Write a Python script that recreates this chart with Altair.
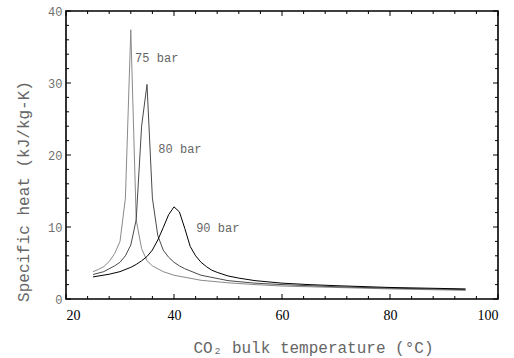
import altair as alt
import pandas as pd

# ---- data ----
t75 = [25, 26, 27, 28, 29, 30, 31, 32, 33, 34, 35, 36, 38, 40, 45, 50, 55, 60, 70, 80, 94]
cp75 = [3.8, 4.1, 4.5, 5.2, 6.3, 8.0, 14.0, 37.4, 11.0, 7.0, 5.3, 4.6, 3.8, 3.3, 2.6, 2.25, 2.0, 1.8, 1.6, 1.4, 1.2]

t80 = [25, 27, 29, 30, 31, 32, 33, 34, 35, 36, 37, 38, 39, 40, 41, 42, 45, 50, 55, 60, 70, 80, 94]
cp80 = [3.4, 3.8, 4.6, 5.1, 6.0, 7.5, 11.0, 24.0, 29.8, 14.0, 8.8, 6.8, 5.8, 5.1, 4.6, 4.2, 3.3, 2.55, 2.2, 2.0, 1.7, 1.5, 1.3]

t90 = [25, 28, 30, 32, 33, 34, 35, 36, 37, 38, 39, 40, 41, 42, 43, 44, 45, 46, 47, 48, 50, 52, 55, 60, 65, 70, 80, 94]
cp90 = [3.07, 3.44, 3.8, 4.4, 4.8, 5.3, 5.9, 6.8, 8.2, 9.9, 11.7, 12.8, 12.1, 9.8, 7.3, 6.0, 5.1, 4.5, 4.0, 3.7, 3.2, 2.9, 2.55, 2.2, 2.0, 1.85, 1.6, 1.4]

series_names = ["75 bar", "80 bar", "90 bar"]
series_colors = ["#8a8a8a", "#4a4a4a", "#000000"]
series_widths = [1.0, 1.0, 1.3]

label_text = ["75 bar", "80 bar", "90 bar"]
label_x = [32.8, 37.1, 44.1]
label_y = [33.5, 20.8, 9.9]

x_major = [20, 40, 60, 80, 100]
x_minor = [24, 28, 32, 36, 44, 48, 52, 56, 64, 68, 72, 76, 84, 88, 92, 96]
y_major = [0, 10, 20, 30, 40]
y_minor = [2, 4, 6, 8, 12, 14, 16, 18, 22, 24, 26, 28, 32, 34, 36, 38]

W, H = 432, 288
MAJ, MIN = 5, 3

rows = []
for name, ts, cs in zip(series_names, [t75, t80, t90], [cp75, cp80, cp90]):
    for t, c in zip(ts, cs):
        rows.append({"series": name, "T": t, "cp": c})
df = pd.DataFrame(rows)

xscale = alt.Scale(domain=[20, 100], nice=False, zero=False)
yscale = alt.Scale(domain=[0, 40], nice=False, zero=False)

mono = "Liberation Mono"
XT = "CO₂ bulk temperature (°C)"
YT = "Specific heat (kJ/kg-K)"

lines = alt.Chart(df).mark_line(interpolate="linear").encode(
    x=alt.X("T:Q", scale=xscale, title=XT,
            axis=alt.Axis(values=x_major,
                          grid=False, ticks=False, domain=False,
                          labelFont="Liberation Serif", labelFontSize=14,
                          labelColor="#000000", labelPadding=9,
                          titleFont=mono, titleFontSize=16, titleColor="#666666",
                          titleFontWeight="normal", titleX=247, titleY=48,
                          titleBaseline="middle", titleAlign="center")),
    y=alt.Y("cp:Q", scale=yscale, title=YT,
            axis=alt.Axis(values=y_major,
                          grid=False, ticks=False, domain=False,
                          labelFont=mono, labelFontSize=12, labelColor="#707070",
                          labelPadding=4,
                          titleFont=mono, titleFontSize=16, titleColor="#666666",
                          titleFontWeight="normal", titleX=-43, titleY=180,
                          titleAngle=-90, titleBaseline="middle", titleAlign="center")),
    color=alt.Color("series:N", scale=alt.Scale(domain=series_names, range=series_colors), legend=None),
    strokeWidth=alt.StrokeWidth("series:N", scale=alt.Scale(domain=series_names, range=series_widths), legend=None),
    detail="series:N",
)

labels = alt.Chart(pd.DataFrame({"T": label_x, "cp": label_y, "text": label_text})).mark_text(
    align="left", baseline="middle", font=mono, fontSize=12, color="#666666"
).encode(
    x=alt.X("T:Q", scale=xscale, title=XT),
    y=alt.Y("cp:Q", scale=yscale, title=YT),
    text="text:N",
)

def xticks(vals, length):
    d = pd.DataFrame({"T": vals})
    bottom = alt.Chart(d).mark_rule(color="black", strokeWidth=1).encode(
        x=alt.X("T:Q", scale=xscale, title=XT), y=alt.value(H), y2=alt.value(H - length))
    top = alt.Chart(d).mark_rule(color="black", strokeWidth=1).encode(
        x=alt.X("T:Q", scale=xscale, title=XT), y=alt.value(0), y2=alt.value(length))
    return [bottom, top]

def yticks(vals, length):
    d = pd.DataFrame({"cp": vals})
    left = alt.Chart(d).mark_rule(color="black", strokeWidth=1).encode(
        y=alt.Y("cp:Q", scale=yscale, title=YT), x=alt.value(0), x2=alt.value(length))
    right = alt.Chart(d).mark_rule(color="black", strokeWidth=1).encode(
        y=alt.Y("cp:Q", scale=yscale, title=YT), x=alt.value(W), x2=alt.value(W - length))
    return [left, right]

tick_layers = xticks(x_major, MAJ) + xticks(x_minor, MIN) + yticks(y_major, MAJ) + yticks(y_minor, MIN)

chart = alt.layer(lines, labels, *tick_layers).properties(
    width=W, height=H,
    autosize=alt.AutoSizeParams(type="none"),
    padding={"left": 66, "top": 11, "right": 16, "bottom": 59},
    background="white",
).configure_view(stroke="black", strokeWidth=1.6)

chart.save("out.html", embed_options={"renderer": "svg", "actions": False})
